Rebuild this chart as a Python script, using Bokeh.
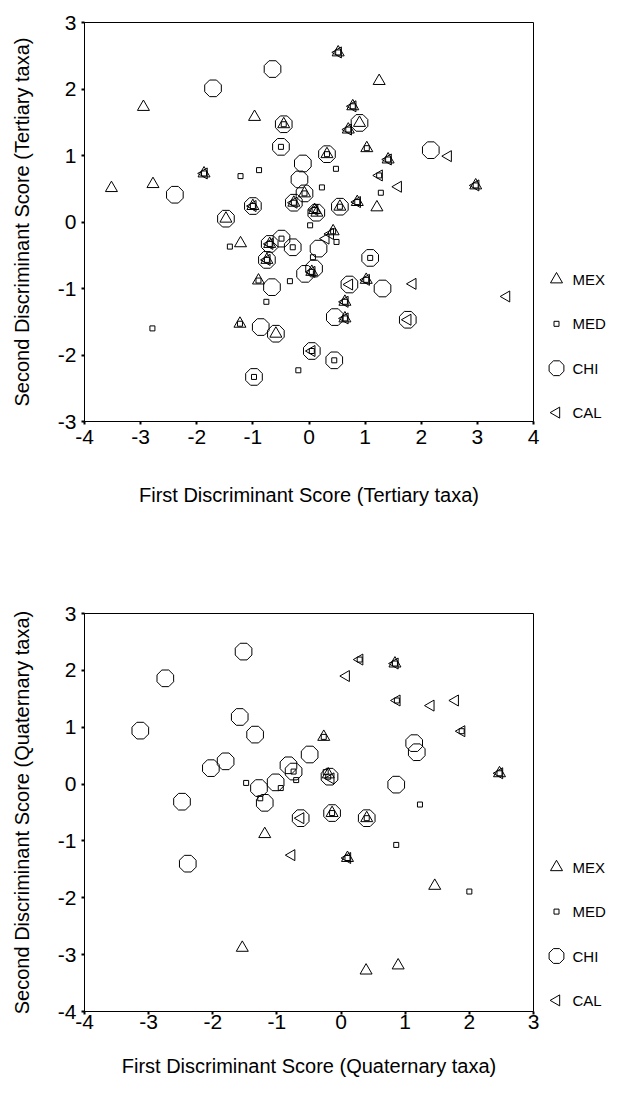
import numpy as np
from bokeh.plotting import figure
from bokeh.layouts import column, row
from bokeh.models import Range1d, FixedTicker
from bokeh.embed import file_html
from bokeh.resources import INLINE
from bokeh.core.properties import value

groups = ["MEX", "MED", "CHI", "CAL"]

# ---- Tertiary taxa (first discriminant score, second discriminant score)
mex_tert = [(-2.95, 1.73), (-0.97, 1.58), (-0.45, 1.47), (-1.87, 0.73), (-3.52, 0.51), (-2.78, 0.57),
            (-1.00, 0.24), (-0.08, 0.43), (-0.27, 0.29), (-1.48, 0.05), (0.52, 2.55), (1.25, 2.12),
            (0.78, 1.74), (0.90, 1.49), (0.70, 1.39), (1.03, 1.11), (0.32, 1.02), (1.41, 0.94),
            (2.97, 0.55), (1.21, 0.22), (0.55, 0.23), (0.86, 0.30), (0.10, 0.18), (0.14, 0.14),
            (0.43, -0.14), (-1.22, -0.32), (-0.70, -0.33), (-0.75, -0.57), (0.05, -0.75), (-0.90, -0.88),
            (1.02, -0.87), (0.64, -1.20), (0.64, -1.45), (-1.23, -1.53), (-0.59, -1.68)]
med_tert = [(-0.45, 1.47), (-0.50, 1.13), (-0.89, 0.78), (-1.22, 0.69), (-1.87, 0.73), (-1.00, 0.24),
            (-0.08, 0.43), (-0.27, 0.29), (0.52, 2.55), (0.78, 1.74), (0.70, 1.39), (1.03, 1.11),
            (0.32, 1.02), (1.41, 0.94), (0.48, 0.80), (1.25, 0.70), (0.23, 0.52), (1.28, 0.44),
            (2.97, 0.55), (0.55, 0.23), (0.86, 0.30), (0.10, 0.18), (0.02, -0.05), (0.43, -0.14),
            (0.49, -0.30), (-1.41, -0.37), (-0.70, -0.33), (-0.49, -0.25), (-0.29, -0.38), (-0.75, -0.57),
            (0.07, -0.53), (0.05, -0.75), (1.09, -0.54), (-0.34, -0.89), (-0.90, -0.88), (-0.76, -1.20),
            (1.02, -0.87), (0.64, -1.20), (0.64, -1.45), (-1.23, -1.53), (0.05, -1.94), (0.45, -2.08),
            (-2.79, -1.60), (-0.98, -2.33), (-0.19, -2.23)]
chi_tert = [(-1.71, 2.01), (-0.65, 2.30), (-0.45, 1.47), (-0.50, 1.13), (-0.11, 0.88), (-0.17, 0.64),
            (-2.39, 0.41), (-1.00, 0.24), (-0.08, 0.43), (-0.27, 0.29), (-1.48, 0.05), (0.90, 1.49),
            (0.32, 1.02), (2.17, 1.08), (0.55, 0.23), (0.13, 0.14), (-0.70, -0.33), (-0.49, -0.25),
            (-0.29, -0.38), (-0.75, -0.57), (0.17, -0.40), (-0.07, -0.78), (0.09, -0.70), (1.09, -0.54),
            (-0.66, -0.98), (0.72, -0.94), (1.31, -1.00), (0.46, -1.43), (-0.86, -1.58), (-0.59, -1.68),
            (1.76, -1.47), (0.05, -1.94), (0.45, -2.08), (-0.98, -2.33)]
cal_tert = [(-1.87, 0.73), (-1.00, 0.24), (-0.27, 0.29), (0.52, 2.55), (0.78, 1.74), (0.70, 1.39),
            (2.48, 0.99), (1.41, 0.94), (1.25, 0.70), (1.59, 0.53), (2.97, 0.55), (0.86, 0.30),
            (0.10, 0.18), (0.38, -0.18), (0.30, -0.25), (-0.70, -0.33), (-0.75, -0.57), (0.05, -0.75),
            (0.72, -0.94), (1.02, -0.87), (0.64, -1.20), (0.64, -1.45), (1.85, -0.93), (3.52, -1.12),
            (1.76, -1.47), (0.05, -1.94)]

# ---- Quaternary taxa
mex_quat = [(-0.27, 0.83), (-0.20, 0.17), (-0.14, -0.51), (0.40, -0.60), (0.84, 2.12), (2.47, 0.19),
            (-1.54, -2.88), (-1.19, -0.88), (0.10, -1.30), (1.46, -1.79), (0.39, -3.28), (0.89, -3.19)]
med_quat = [(-1.48, 0.02), (-1.26, -0.25), (-0.94, -0.07), (-0.74, 0.22), (-0.70, 0.07), (-0.27, 0.83),
            (-0.24, 0.21), (-0.20, 0.13), (1.23, -0.36), (-0.14, -0.51), (0.40, -0.60), (0.29, 2.19),
            (0.84, 2.12), (0.87, 1.47), (1.88, 0.93), (2.47, 0.19), (0.10, -1.30), (0.86, -1.07),
            (2.00, -1.89)]
chi_quat = [(-1.52, 2.33), (-2.74, 1.86), (-3.13, 0.94), (-1.58, 1.18), (-1.34, 0.87), (-1.80, 0.40),
            (-2.03, 0.28), (-2.48, -0.31), (-1.28, -0.07), (-1.19, -0.33), (-1.02, 0.03), (-0.82, 0.33),
            (-0.74, 0.22), (-0.49, 0.52), (-0.18, 0.13), (1.14, 0.72), (1.18, 0.56), (0.86, -0.01),
            (-0.63, -0.60), (-0.14, -0.51), (0.40, -0.60), (-2.39, -1.40)]
cal_quat = [(-0.16, 0.10), (0.29, 2.19), (0.84, 2.12), (0.08, 1.90), (0.87, 1.47), (1.40, 1.38),
            (1.78, 1.47), (1.88, 0.93), (2.47, 0.19), (-0.63, -0.60), (-0.77, -1.25), (0.10, -1.30)]

x_ticks_tert = [-4, -3, -2, -1, 0, 1, 2, 3, 4]
y_ticks_tert = [-3, -2, -1, 0, 1, 2, 3]
x_ticks_quat = [-4, -3, -2, -1, 0, 1, 2, 3]
y_ticks_quat = [-4, -3, -2, -1, 0, 1, 2, 3]

FONT = "Liberation Sans"


def unzip(pts):
    return [p[0] for p in pts], [p[1] for p in pts]


def draw_markers(p, data):
    mex, med, chi, cal = data
    cx, cy = unzip(chi)
    p.ngon(x=cx, y=cy, radius=9, radius_units="screen", n=8, angle=np.pi / 8,
           fill_color=None, line_color="black", line_width=1)
    mx, my = unzip(mex)
    p.scatter(mx, my, marker="triangle", size=12, fill_color=None, line_color="black", line_width=1)
    lx, ly = unzip(cal)
    p.scatter(lx, ly, marker="triangle", size=11, angle=np.pi / 2, fill_color=None,
              line_color="black", line_width=1)
    sx, sy = unzip(med)
    p.scatter(sx, sy, marker="square", size=5, fill_color=None, line_color="black", line_width=1)


def make_plot(data, xr, yr, xt, yt, xlabel, ylabel, h, top, bottom, tick_standoff, xlab_standoff):
    p = figure(width=543, height=h, x_range=Range1d(*xr), y_range=Range1d(*yr),
               output_backend="svg", toolbar_location=None,
               min_border_left=84, min_border_right=10, min_border_top=top, min_border_bottom=bottom)
    p.grid.visible = False
    p.outline_line_color = "black"
    p.outline_line_width = 1
    p.background_fill_color = "white"
    p.border_fill_color = "white"
    p.xaxis.ticker = FixedTicker(ticks=xt)
    p.yaxis.ticker = FixedTicker(ticks=yt)
    p.xaxis.major_label_overrides = {t: str(t) for t in xt}
    p.yaxis.major_label_overrides = {t: str(t) for t in yt}
    for ax in (p.xaxis[0], p.yaxis[0]):
        ax.axis_line_color = "black"
        ax.major_tick_in = 0
        ax.major_tick_out = 3
        ax.major_tick_line_width = 2
        ax.major_tick_line_color = "black"
        ax.minor_tick_line_color = None
        ax.major_label_text_font = FONT
        ax.major_label_text_font_size = "21px"
        ax.major_label_text_color = "black"
        ax.axis_label_text_font = FONT
        ax.axis_label_text_font_size = "20px"
        ax.axis_label_text_font_style = "normal"
        ax.axis_label_text_color = "black"
    p.xaxis.axis_label = xlabel
    p.yaxis.axis_label = ylabel
    p.xaxis.major_label_standoff = tick_standoff
    p.yaxis.major_label_standoff = 5
    p.xaxis.axis_label_standoff = xlab_standoff
    p.yaxis.axis_label_standoff = 22
    draw_markers(p, data)
    return p


def make_legend(h, ystart, frame_h):
    unit = 44.4
    lg = figure(width=82, height=h, x_range=Range1d(0, 82),
                y_range=Range1d(ystart, ystart + frame_h / unit),
                x_axis_type=None, y_axis_type=None, output_backend="svg",
                toolbar_location=None, min_border=0)
    lg.grid.visible = False
    lg.outline_line_color = None
    n = len(groups)
    ys = [n - 1 - i for i in range(n)]
    pos = dict(zip(groups, ys))
    lg.scatter([13], [pos["MEX"]], marker="triangle", size=12, fill_color=None, line_color="black")
    lg.scatter([13], [pos["MED"]], marker="square", size=5, fill_color=None, line_color="black")
    lg.ngon(x=[13], y=[pos["CHI"]], radius=8, radius_units="screen", n=8, angle=np.pi / 8,
            fill_color=None, line_color="black")
    lg.scatter([13], [pos["CAL"]], marker="triangle", size=11, angle=np.pi / 2,
               fill_color=None, line_color="black")
    lg.text(x=[29] * n, y=ys, text=groups, text_font=value(FONT), text_font_size="15px",
            text_baseline="middle", text_align="left", text_color="black")
    return lg


p1 = make_plot((mex_tert, med_tert, chi_tert, cal_tert), (-4, 4), (-3, 3), x_ticks_tert, y_ticks_tert,
               "First Discriminant Score (Tertiary taxa)", "Second Discriminant Score (Tertiary taxa)",
               556, 22, 135, 5, 37)
p2 = make_plot((mex_quat, med_quat, chi_quat, cal_quat), (-4, 3), (-4, 3), x_ticks_quat, y_ticks_quat,
               "First Discriminant Score (Quaternary taxa)", "Second Discriminant Score (Quaternary taxa)",
               538, 57, 83, 0, 23)

l1 = make_legend(556, -0.2, 399)
l2 = make_legend(538, -0.25, 398)

layout = column(row(p1, l1), row(p2, l2))
open("out.html", "w").write(file_html(layout, INLINE))
